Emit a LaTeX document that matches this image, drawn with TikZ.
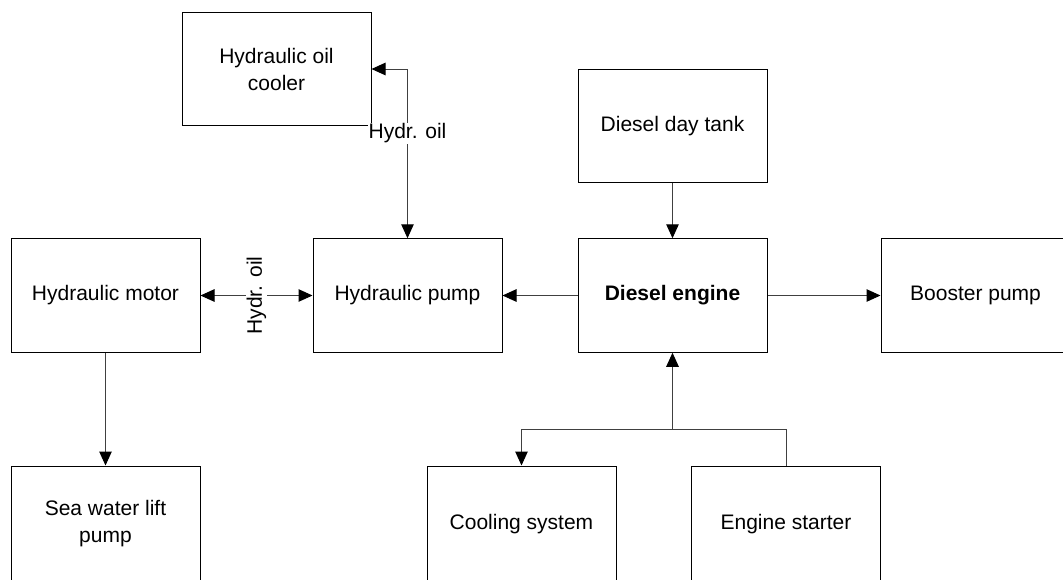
\documentclass[tikz,border=0pt]{standalone}
\usepackage{fontspec}
\setmainfont{Liberation Sans}
\usetikzlibrary{arrows.meta}
\begin{document}
\begin{tikzpicture}[x=1pt,y=-1pt,
  tip/.tip={Triangle[length=14pt,width=12.5pt,fill=black,color=black]},
  box/.style={draw=black, line width=1pt, minimum width=189pt, minimum height=113.5pt, inner sep=0pt, align=center, font=\fontsize{21}{27}\selectfont},
  conn/.style={draw=black!75, line width=1pt, -tip},
  biconn/.style={draw=black!75, line width=1pt, tip-tip},
  plain/.style={draw=black!75, line width=1pt},
  lbl/.style={fill=white, inner sep=1pt, font=\fontsize{21}{27}\selectfont}]
\useasboundingbox (0,0) rectangle (1063,579);
\clip (0,0) rectangle (1063,579);
\node[box] (cooler) at (276.5,69) {Hydraulic oil\\cooler};
\node[box] (tank) at (672.5,126) {Diesel day tank};
\node[box] (motor) at (105.5,295.5) {Hydraulic motor};
\node[box] (pump) at (407.5,295.5) {Hydraulic pump};
\node[box] (engine) at (672.5,295.5) {\bfseries Diesel engine};
\node[box] (booster) at (975.5,295.5) {Booster pump};
\node[box, minimum height=116pt] (sea) at (105.5,524) {Sea water lift\\pump};
\node[box, minimum height=116pt] (cool) at (521.5,524) {Cooling system};
\node[box, minimum height=116pt] (starter) at (786,524) {Engine starter};
\coordinate (j) at (672.5,429);
\draw[biconn] (cooler.east) -| (pump.north) node[lbl, pos=0.69] {Hydr. oil};
\draw[biconn] (motor.east) -- (pump.west) node[lbl, midway, rotate=90] {Hydr. oil};
\draw[conn] (tank.south) -- (engine.north);
\draw[conn] (engine.west) -- (pump.east);
\draw[conn] (engine.east) -- (booster.west);
\draw[conn] (motor.south) -- (sea.north);
\draw[plain] (starter.north) -- (starter.north |- j) -- (j);
\draw[conn] (j) -| (cool.north);
\draw[conn] (j) -- (engine.south);
\end{tikzpicture}
\end{document}
